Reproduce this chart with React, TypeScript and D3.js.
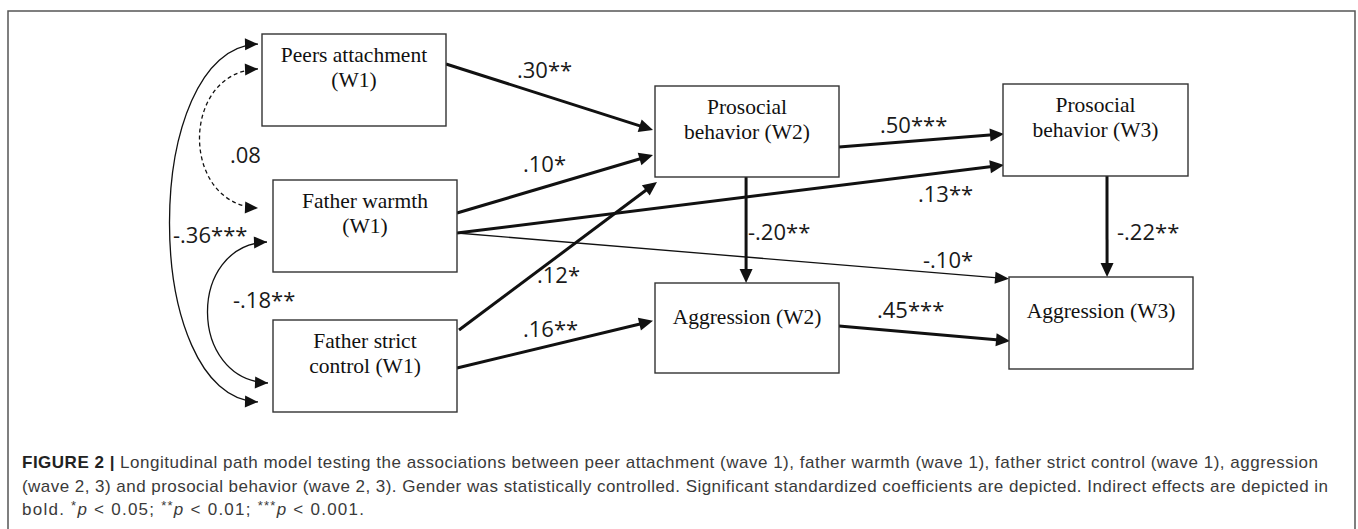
import React, { useEffect, useRef } from 'react';
import * as d3 from 'd3';

// Variables in the path model
const nodeIds = ['pa', 'fw', 'fsc', 'pb2', 'ag2', 'pb3', 'ag3'];
const nodeLines = [
  ['Peers attachment', '(W1)'],
  ['Father warmth', '(W1)'],
  ['Father strict', 'control (W1)'],
  ['Prosocial', 'behavior (W2)'],
  ['Aggression (W2)'],
  ['Prosocial', 'behavior (W3)'],
  ['Aggression (W3)'],
];

// Directed paths (standardized coefficients)
const pathFrom = ['pa', 'fw', 'fsc', 'fw', 'fw', 'fsc', 'pb2', 'ag2', 'pb2', 'pb3'];
const pathTo = ['pb2', 'pb2', 'pb2', 'pb3', 'ag3', 'ag2', 'pb3', 'ag3', 'ag2', 'ag3'];
const pathCoef = ['.30**', '.10*', '.12*', '.13**', '-.10*', '.16**', '.50***', '.45***', '-.20**', '-.22**'];
const pathIndirect = [true, true, true, true, false, true, true, true, true, true];

// Correlations between wave 1 variables
const corrA = ['pa', 'pa', 'fw'];
const corrB = ['fw', 'fsc', 'fsc'];
const corrCoef = ['.08', '-.36***', '-.18**'];
const corrSignificant = [false, true, true];

const captionLines = [
  'Longitudinal path model testing the associations between peer attachment (wave 1), father warmth (wave 1), father strict control (wave 1), aggression',
  '(wave 2, 3) and prosocial behavior (wave 2, 3). Gender was statistically controlled. Significant standardized coefficients are depicted. Indirect effects are depicted in',
];

// ---- layout ----
const W = 1358;
const H = 529;
const boxes: Record<string, [number, number, number, number]> = {
  pa: [262, 34, 184, 92],
  fw: [273, 180, 184, 92],
  fsc: [273, 320, 184, 92],
  pb2: [655, 86, 184, 91],
  ag2: [655, 283, 184, 90],
  pb3: [1003, 84, 185, 92],
  ag3: [1009, 277, 184, 92],
};
// [fx, fy, dx, dy] relative to source / target box
const pathAnchors: [number[], number[]][] = [
  [[1, 0.326, 0, 0], [0, 0.484, -2, 0]],
  [[1, 0.359, 0, 0], [0, 0.758, -2, 0]],
  [[1, 0.109, 2, 0], [0, 1, 2, 5]],
  [[1, 0.576, 0, 0], [0, 0.88, 1, 0]],
  [[1, 0.576, 0, 0], [0, 0.02, 0, 0]],
  [[1, 0.522, 0, 0], [0, 0.42, -2, 0]],
  [[1, 0.67, 0, 0], [0, 0.543, 1, 0]],
  [[1, 0.478, 0, 0], [0, 0.696, 1, 0]],
  [[0.495, 1, 0, 0], [0.495, 0, 0, 0]],
  [[0.562, 1, 0, 0], [0.533, 0, 0, 0]],
];
const pathLabelPos = [
  [517, 78], [523, 172], [537, 283], [918, 202], [923, 268],
  [523, 337], [880, 133], [877, 318], [748, 240], [1117, 240],
];
const corrAnchors: [number[], number[]][] = [
  [[0, 0.38, -4, 0], [0, 0.304, -15, 0]],
  [[0, 0.109, -4, 0], [0, 0.89, -15, 0]],
  [[0, 0.674, -6, 0], [0, 0.685, -5, 0]],
];
const corrBulge = [78, 118, 80];
const corrLabelPos = [[230, 163], [173, 243], [233, 308]];

const anchor = (id: string, a: number[]): [number, number] => {
  const [x, y, w, h] = boxes[id];
  return [x + a[0] * w + a[2], y + a[1] * h + a[3]];
};

const headPoints = (tip: [number, number], ang: number, len = 14, hw = 6.5) => {
  const bx = tip[0] - len * Math.cos(ang);
  const by = tip[1] - len * Math.sin(ang);
  const nx = -Math.sin(ang) * hw;
  const ny = Math.cos(ang) * hw;
  return `${tip[0]},${tip[1]} ${bx + nx},${by + ny} ${bx - nx},${by - ny}`;
};

const App: React.FC = () => {
  const ref = useRef<SVGSVGElement>(null);

  useEffect(() => {
    if (!ref.current) return;
    const svg = d3.select(ref.current);
    svg.selectAll('*').remove();

    svg.append('rect').attr('width', W).attr('height', H).attr('fill', '#fff');

    // outer frame
    svg.append('rect')
      .attr('x', 8).attr('y', 11)
      .attr('width', 1347).attr('height', H + 20)
      .attr('fill', 'none').attr('stroke', '#555').attr('stroke-width', 1.5);

    const ink = '#111';
    const line = d3.line();

    // directed paths
    pathFrom.forEach((from, i) => {
      const s = anchor(from, pathAnchors[i][0]);
      const t = anchor(pathTo[i], pathAnchors[i][1]);
      const ang = Math.atan2(t[1] - s[1], t[0] - s[0]);
      const back = 8;
      const e: [number, number] = [t[0] - back * Math.cos(ang), t[1] - back * Math.sin(ang)];
      svg.append('path')
        .attr('d', line([s, e]))
        .attr('stroke', ink)
        .attr('stroke-width', pathIndirect[i] ? 3 : 1.3)
        .attr('fill', 'none');
      svg.append('polygon')
        .attr('points', headPoints(t, ang, 14, pathIndirect[i] ? 6.5 : 6))
        .attr('fill', ink);
      svg.append('text')
        .attr('x', pathLabelPos[i][0]).attr('y', pathLabelPos[i][1])
        .attr('font-family', '"Open Sans", sans-serif')
        .attr('font-size', 22)
        .attr('fill', '#1a1a1a')
        .text(pathCoef[i]);
    });

    // correlations (double-headed curves)
    corrA.forEach((a, i) => {
      const s = anchor(a, corrAnchors[i][0]);
      const t = anchor(corrB[i], corrAnchors[i][1]);
      const c1: [number, number] = [s[0] - corrBulge[i], s[1] + 3];
      const c2: [number, number] = [t[0] - corrBulge[i], t[1] - 3];
      const p = d3.path();
      p.moveTo(s[0], s[1]);
      p.bezierCurveTo(c1[0], c1[1], c2[0], c2[1], t[0], t[1]);
      svg.append('path')
        .attr('d', p.toString())
        .attr('fill', 'none')
        .attr('stroke', ink)
        .attr('stroke-width', 1.3)
        .attr('stroke-dasharray', corrSignificant[i] ? null : '4,3');
      const a0 = Math.atan2(s[1] - c1[1], s[0] - c1[0]);
      const a1 = Math.atan2(t[1] - c2[1], t[0] - c2[0]);
      svg.append('polygon').attr('points', headPoints(s, a0, 13, 6)).attr('fill', ink);
      svg.append('polygon').attr('points', headPoints(t, a1, 13, 6)).attr('fill', ink);
      svg.append('text')
        .attr('x', corrLabelPos[i][0]).attr('y', corrLabelPos[i][1])
        .attr('font-family', '"Open Sans", sans-serif')
        .attr('font-size', 22)
        .attr('fill', '#1a1a1a')
        .text(corrCoef[i]);
    });

    // boxes
    nodeIds.forEach((id, i) => {
      const [x, y, w, h] = boxes[id];
      const g = svg.append('g');
      g.append('rect')
        .attr('x', x).attr('y', y).attr('width', w).attr('height', h)
        .attr('fill', '#fff').attr('stroke', '#333').attr('stroke-width', 1.4);
      const lines = nodeLines[i];
      lines.forEach((ln, j) => {
        g.append('text')
          .attr('x', x + w / 2)
          .attr('y', lines.length === 1 ? y + 41 : y + 27.5 + j * 25)
          .attr('text-anchor', 'middle')
          .attr('font-family', '"Liberation Serif", "Times New Roman", serif')
          .attr('font-size', 21.5)
          .attr('fill', ink)
          .text(ln);
      });
    });

    // caption
    const capFont = '"Liberation Sans", Arial, sans-serif';
    const capSize = 17;
    const capY = [468, 491.5, 515];
    const capLen = [1296, 1306];
    captionLines.forEach((ln, i) => {
      const t = svg.append('text')
        .attr('x', 22).attr('y', capY[i])
        .attr('font-family', capFont)
        .attr('font-size', capSize)
        .attr('fill', '#3a3a3a')
        .attr('textLength', capLen[i])
        .attr('lengthAdjust', 'spacing');
      if (i === 0) {
        t.append('tspan').attr('font-weight', 'bold').attr('fill', '#222').text('FIGURE 2 | ');
      }
      t.append('tspan').text(ln);
    });
    const last = svg.append('text')
      .attr('x', 22).attr('y', capY[2])
      .attr('font-family', capFont)
      .attr('font-size', capSize)
      .attr('fill', '#3a3a3a')
      .attr('textLength', 342)
      .attr('lengthAdjust', 'spacing');
    last.append('tspan').text('bold. ');
    const pTerms = [['*', '0.05;'], ['**', '0.01;'], ['***', '0.001.']];
    pTerms.forEach(([stars, val], k) => {
      last.append('tspan').attr('font-size', 13).attr('dy', -5).text(stars);
      last.append('tspan').attr('font-style', 'italic').attr('dy', 5).text('p');
      last.append('tspan').text(` < ${val}${k < pTerms.length - 1 ? ' ' : ''}`);
    });
  }, []);

  return (
    <svg
      ref={ref}
      width={W}
      height={H}
      style={{ position: 'absolute', left: 0, top: 0, display: 'block' }}
    />
  );
};

export default App;
